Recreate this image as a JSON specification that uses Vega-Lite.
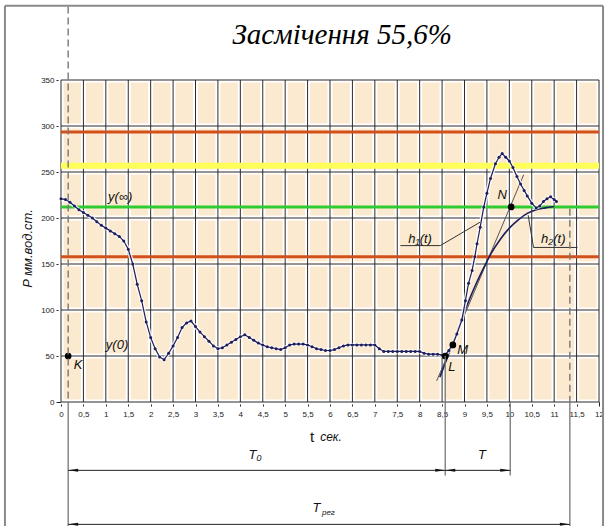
{
  "$schema": "https://vega.github.io/schema/vega-lite/v6.json",
  "autosize": "none",
  "width": 538,
  "height": 322,
  "padding": {"left": 61, "top": 80, "right": 8, "bottom": 124},
  "background": "white",
  "view": {"fill": "#FCEAD0", "stroke": null},
  "config": {"font": "Liberation Sans"},
  "datasets": {
    "gx": [{"t":0,"v":0,"v2":350},{"t":0.5,"v":0,"v2":350},{"t":1,"v":0,"v2":350},{"t":1.5,"v":0,"v2":350},{"t":2,"v":0,"v2":350},{"t":2.5,"v":0,"v2":350},{"t":3,"v":0,"v2":350},{"t":3.5,"v":0,"v2":350},{"t":4,"v":0,"v2":350},{"t":4.5,"v":0,"v2":350},{"t":5,"v":0,"v2":350},{"t":5.5,"v":0,"v2":350},{"t":6,"v":0,"v2":350},{"t":6.5,"v":0,"v2":350},{"t":7,"v":0,"v2":350},{"t":7.5,"v":0,"v2":350},{"t":8,"v":0,"v2":350},{"t":8.5,"v":0,"v2":350},{"t":9,"v":0,"v2":350},{"t":9.5,"v":0,"v2":350},{"t":10,"v":0,"v2":350},{"t":10.5,"v":0,"v2":350},{"t":11,"v":0,"v2":350},{"t":11.5,"v":0,"v2":350},{"t":12,"v":0,"v2":350}],
    "gy": [{"v":0,"t":0,"t2":12},{"v":50,"t":0,"t2":12},{"v":100,"t":0,"t2":12},{"v":150,"t":0,"t2":12},{"v":200,"t":0,"t2":12},{"v":250,"t":0,"t2":12},{"v":300,"t":0,"t2":12},{"v":350,"t":0,"t2":12}],
    "hy": [{"v": 256.8, "t": 0, "t2": 12, "kind": "yellow"}, {"v": 293.5, "t": 0, "t2": 12, "kind": "red"}, {"v": 157.8, "t": 0, "t2": 12, "kind": "red"}, {"v": 212, "t": 0, "t2": 12, "kind": "green"}],
    "curve": [
      {"t":0.0,"v":221},{"t":0.1,"v":220},{"t":0.2,"v":217},{"t":0.3,"v":213},{"t":0.4,"v":209},{"t":0.5,"v":206},{"t":0.6,"v":203},{"t":0.7,"v":200},{"t":0.8,"v":196},{"t":0.9,"v":192},{"t":1.0,"v":189},{"t":1.1,"v":186},{"t":1.2,"v":183},{"t":1.3,"v":180},{"t":1.4,"v":175},{"t":1.5,"v":166},{"t":1.6,"v":150},{"t":1.7,"v":128},{"t":1.8,"v":110},{"t":1.9,"v":87},{"t":2.0,"v":70},{"t":2.1,"v":58},{"t":2.2,"v":49},{"t":2.3,"v":46},{"t":2.4,"v":53},{"t":2.5,"v":61},{"t":2.6,"v":70},{"t":2.7,"v":81},{"t":2.8,"v":86},{"t":2.9,"v":88},{"t":3.0,"v":82},{"t":3.1,"v":76},{"t":3.2,"v":71},{"t":3.3,"v":66},{"t":3.4,"v":61},{"t":3.5,"v":58},{"t":3.6,"v":59},{"t":3.7,"v":62},{"t":3.8,"v":65},{"t":3.9,"v":68},{"t":4.0,"v":71},{"t":4.1,"v":73},{"t":4.2,"v":70},{"t":4.3,"v":67},{"t":4.4,"v":64},{"t":4.5,"v":62},{"t":4.6,"v":60},{"t":4.7,"v":59},{"t":4.8,"v":58},{"t":4.9,"v":57},{"t":5.0,"v":59},{"t":5.1,"v":62},{"t":5.2,"v":63},{"t":5.3,"v":63},{"t":5.4,"v":63},{"t":5.5,"v":62},{"t":5.6,"v":60},{"t":5.7,"v":58},{"t":5.8,"v":57},{"t":5.9,"v":56},{"t":6.0,"v":56},{"t":6.1,"v":57},{"t":6.2,"v":59},{"t":6.3,"v":61},{"t":6.4,"v":62},{"t":6.5,"v":62},{"t":6.6,"v":62},{"t":6.7,"v":62},{"t":6.8,"v":62},{"t":6.9,"v":62},{"t":7.0,"v":62},{"t":7.1,"v":58},{"t":7.2,"v":55},{"t":7.3,"v":55},{"t":7.4,"v":55},{"t":7.5,"v":55},{"t":7.6,"v":55},{"t":7.7,"v":55},{"t":7.8,"v":55},{"t":7.9,"v":55},{"t":8.0,"v":55},{"t":8.1,"v":53},{"t":8.2,"v":52},{"t":8.3,"v":52},{"t":8.4,"v":52},{"t":8.5,"v":51},{"t":8.55,"v":50},{"t":8.65,"v":56},{"t":8.75,"v":64},{"t":8.83,"v":74},{"t":8.94,"v":89},{"t":9.02,"v":110},{"t":9.09,"v":129},{"t":9.17,"v":143},{"t":9.23,"v":158},{"t":9.28,"v":172},{"t":9.35,"v":190},{"t":9.43,"v":212},{"t":9.5,"v":227},{"t":9.58,"v":243},{"t":9.69,"v":259},{"t":9.77,"v":266},{"t":9.84,"v":270},{"t":9.92,"v":266},{"t":10.0,"v":262},{"t":10.08,"v":255},{"t":10.17,"v":245},{"t":10.25,"v":237},{"t":10.33,"v":230},{"t":10.4,"v":224},{"t":10.5,"v":216},{"t":10.6,"v":211},{"t":10.68,"v":213},{"t":10.76,"v":218},{"t":10.84,"v":221},{"t":10.92,"v":223},{"t":11.0,"v":220},{"t":11.05,"v":218}
    ],
    "smooth": [
      {"t":8.45,"v":27},{"t":8.6,"v":46},{"t":8.8,"v":72},{"t":9.0,"v":98},{"t":9.2,"v":122},{"t":9.4,"v":143},{"t":9.6,"v":162},{"t":9.8,"v":177},{"t":10.0,"v":189},{"t":10.2,"v":198},{"t":10.4,"v":205},{"t":10.6,"v":209},{"t":10.8,"v":211},{"t":11.0,"v":212.5}
    ],
    "labels": [
      {"t":1.32,"v":223,"label":"y(∞)"},
      {"t":1.25,"v":62,"label":"y(0)"},
      {"t":0.38,"v":40,"label":"K"},
      {"t":8.72,"v":38,"label":"L"},
      {"t":8.96,"v":57,"label":"M"},
      {"t":9.84,"v":225,"label":"N"},
      {"t":8.01,"v":177,"label":"h₁(t)"},
      {"t":10.98,"v":177,"label":"h₂(t)"},
      {"t":4.33,"v":-58,"label":"T₀"},
      {"t":9.39,"v":-58,"label":"T"},
      {"t":5.7,"v":-115,"label":"T"}
    ]
  },
  "encoding": {
    "x": {"field": "t", "type": "quantitative",
      "scale": {"domain": [0, 12], "nice": false, "zero": false},
      "axis": {"values": [0,0.5,1,1.5,2,2.5,3,3.5,4,4.5,5,5.5,6,6.5,7,7.5,8,8.5,9,9.5,10,10.5,11,11.5,12],
        "labelExpr": "replace(toString(datum.value), '.', ',')", "labelOverlap": false,
        "grid": false, "title": null, "labelFontSize": 8, "labelColor": "#222", "labelFlush": false,
        "domainColor": "#000", "tickColor": "#222", "tickSize": 4, "labelPadding": 4}},
    "y": {"field": "v", "type": "quantitative",
      "scale": {"domain": [0, 350], "nice": false},
      "axis": {"values": [0,50,100,150,200,250,300,350], "grid": false, "title": null, "labelOverlap": false,
        "labelFontSize": 8, "labelColor": "#222", "domainColor": "#000", "tickColor": "#222", "tickSize": 5, "labelPadding": 2}}
  },
  "layer": [
    {"data": {"name": "gx"}, "mark": {"type": "rule", "color": "white", "strokeWidth": 5},
      "encoding": {"y2": {"field": "v2"}}},
    {"data": {"name": "gy"}, "mark": {"type": "rule", "color": "white", "strokeWidth": 5},
      "encoding": {"x2": {"field": "t2"}}},
    {"data": {"name": "gx"}, "mark": {"type": "rule", "color": "#2b2b2b", "strokeWidth": 1},
      "encoding": {"y2": {"field": "v2"}}},
    {"data": {"name": "gy"}, "mark": {"type": "rule", "color": "#2b2b2b", "strokeWidth": 1},
      "encoding": {"x2": {"field": "t2"}}},
    {"data": {"name": "hy"}, "transform": [{"filter": "datum.kind == 'yellow'"}],
      "mark": {"type": "rule", "color": "#FFFF5A", "strokeWidth": 6},
      "encoding": {"x2": {"field": "t2"}}},
    {"data": {"name": "hy"}, "transform": [{"filter": "datum.kind == 'red'"}],
      "mark": {"type": "rule", "color": "#D2501A", "strokeWidth": 3},
      "encoding": {"x2": {"field": "t2"}}},
    {"data": {"name": "hy"}, "transform": [{"filter": "datum.kind == 'green'"}],
      "mark": {"type": "rule", "color": "#2FCB2F", "strokeWidth": 3},
      "encoding": {"x2": {"field": "t2"}}},
    {"data": {"values": [{"t": 8.38, "v": 23, "t2": 10.32, "v2": 247}]},
      "mark": {"type": "rule", "color": "#555", "strokeWidth": 1},
      "encoding": {"x2": {"field": "t2"}, "y2": {"field": "v2"}}},
    {"data": {"name": "smooth"}, "mark": {"type": "line", "color": "#1E1E5C", "strokeWidth": 1.6, "interpolate": "monotone"}},
    {"data": {"name": "curve"}, "mark": {"type": "line", "color": "white", "strokeWidth": 4, "opacity": 0.8}},
    {"data": {"name": "curve"}, "mark": {"type": "line", "color": "#1E1E5C", "strokeWidth": 1.2,
      "point": {"filled": true, "color": "#1E1E5C", "size": 9}}},
    {"data": {"values": [{"t": 0.16, "v": 50}, {"t": 8.57, "v": 50}, {"t": 8.74, "v": 62}, {"t": 10.04, "v": 212}]},
      "mark": {"type": "point", "filled": true, "color": "#000", "size": 45, "opacity": 1}},
    {"data": {"values": [
        {"t": 7.57, "v": 170, "t2": 8.46, "v2": 170},
        {"t": 8.46, "v": 170, "t2": 9.35, "v2": 195.5},
        {"t": 10.54, "v": 168, "t2": 11.52, "v2": 168},
        {"t": 10.54, "v": 168, "t2": 10.42, "v2": 203}]},
      "mark": {"type": "rule", "color": "#333", "strokeWidth": 1},
      "encoding": {"x2": {"field": "t2"}, "y2": {"field": "v2"}}},
    {"data": {"values": [
        {"t": 0.16, "v": 430, "t2": 0.16, "v2": 0},
        {"t": 11.35, "v": 210, "t2": 11.35, "v2": 0}]},
      "mark": {"type": "rule", "color": "#777", "strokeWidth": 1.4, "strokeDash": [7, 4]},
      "encoding": {"x2": {"field": "t2"}, "y2": {"field": "v2"}}},
    {"data": {"values": [
        {"t": 0.16, "v": 0, "t2": 0.16, "v2": -137},
        {"t": 11.35, "v": 0, "t2": 11.35, "v2": -137},
        {"t": 8.57, "v": 50, "t2": 8.57, "v2": -80},
        {"t": 10.02, "v": 0, "t2": 10.02, "v2": -80}]},
      "mark": {"type": "rule", "color": "#777", "strokeWidth": 1.3},
      "encoding": {"x2": {"field": "t2"}, "y2": {"field": "v2"}}},
    {"data": {"values": [
        {"t": 0.16, "v": -74.3, "t2": 8.57, "v2": -74.3},
        {"t": 8.57, "v": -74.3, "t2": 10.02, "v2": -74.3},
        {"t": 0.16, "v": -133, "t2": 11.35, "v2": -133}]},
      "mark": {"type": "rule", "color": "#222", "strokeWidth": 1},
      "encoding": {"x2": {"field": "t2"}, "y2": {"field": "v2"}}},
    {"data": {"values": [{"t": 0.16, "v": -74.3}, {"t": 8.57, "v": -74.3}, {"t": 0.16, "v": -133}]},
      "mark": {"type": "point", "filled": true, "color": "#111", "opacity": 1, "size": 25,
        "shape": "M0,0L4,-0.6L4,0.6Z"}},
    {"data": {"values": [{"t": 8.57, "v": -74.3}, {"t": 10.02, "v": -74.3}, {"t": 11.35, "v": -133}]},
      "mark": {"type": "point", "filled": true, "color": "#111", "opacity": 1, "size": 25,
        "shape": "M0,0L-4,-0.6L-4,0.6Z"}},
    {"data": {"values": [
        {"t": -1.25, "v": 430.6, "t2": -1.25, "v2": -137},
        {"t": -1.25, "v": 430.6, "t2": 12.09, "v2": 430.6},
        {"t": 12.09, "v": 430.6, "t2": 12.09, "v2": -137}]},
      "mark": {"type": "rule", "color": "#8a8a8a", "strokeWidth": 2},
      "encoding": {"x2": {"field": "t2"}, "y2": {"field": "v2"}}},
    {"data": {"name": "labels"},
      "mark": {"type": "text", "font": "Liberation Sans", "fontStyle": "italic", "fontSize": 13, "color": "#111", "align": "center", "baseline": "middle"},
      "encoding": {"text": {"field": "label"}}},
    {"data": {"values": [{"t": 5.82, "v": -121, "label": "рег"}]},
      "mark": {"type": "text", "font": "Liberation Sans", "fontStyle": "italic", "fontSize": 8, "color": "#111", "align": "left", "baseline": "middle"},
      "encoding": {"text": {"field": "label"}}},
    {"data": {"values": [{"t": 5.6, "v": -38.5, "label": "t"}]},
      "mark": {"type": "text", "font": "Liberation Sans", "fontSize": 15, "color": "#111", "align": "center", "baseline": "middle"},
      "encoding": {"text": {"field": "label"}}},
    {"data": {"values": [{"t": 5.78, "v": -38.5, "label": "сек."}]},
      "mark": {"type": "text", "font": "Liberation Sans", "fontStyle": "italic", "fontSize": 12, "color": "#111", "align": "left", "baseline": "middle"},
      "encoding": {"text": {"field": "label"}}},
    {"data": {"values": [{"t": -0.74, "v": 167, "label": "P мм.вод.ст."}]},
      "mark": {"type": "text", "font": "Liberation Sans", "fontStyle": "italic", "fontSize": 13, "color": "#111", "align": "center", "baseline": "middle", "angle": 270},
      "encoding": {"text": {"field": "label"}}},
    {"data": {"values": [{"t": 6.27, "v": 399, "label": "Засмічення 55,6%"}]},
      "mark": {"type": "text", "font": "Liberation Serif", "fontStyle": "italic", "fontSize": 29, "color": "#000", "align": "center", "baseline": "middle"},
      "encoding": {"text": {"field": "label"}}}
  ]
}
